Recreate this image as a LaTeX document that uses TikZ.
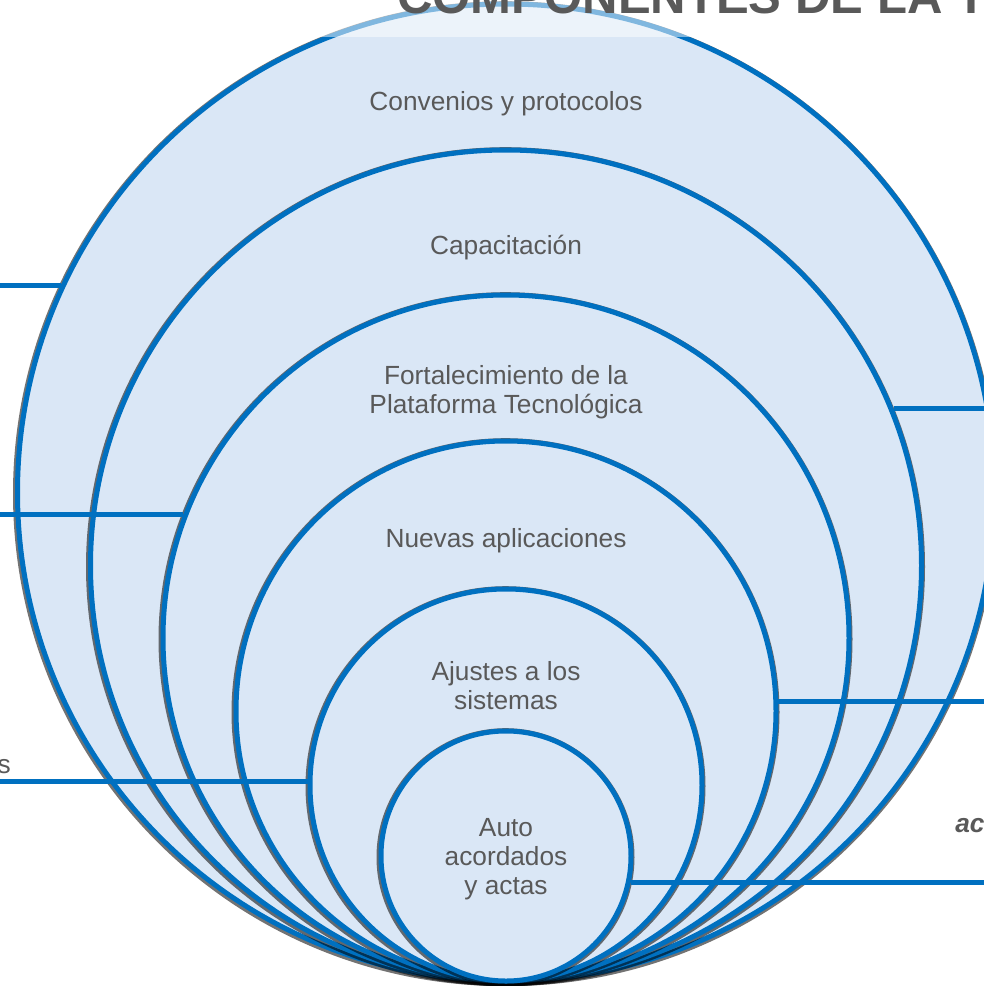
\documentclass[tikz,border=0pt]{standalone}
\usepackage{fontspec}
\setmainfont{Liberation Sans}
\definecolor{ringblue}{HTML}{0070C0}
\definecolor{ringfill}{HTML}{DAE7F6}
\definecolor{txtgray}{HTML}{595959}
\tikzset{
  ring/.style={circle, draw=ringblue, fill=ringfill, line width=3.75pt, inner sep=0pt, minimum size=#1},
  link/.style={draw=ringblue, line width=3.75pt},
  lbl/.style={text=txtgray, font=\fontsize{19.7}{21.4}\selectfont, align=center, anchor=base},
  ttl/.style={text=txtgray, font=\fontsize{36.8}{40}\selectfont\bfseries, anchor=base west, inner sep=0pt}
}
\begin{document}
\begin{tikzpicture}[x=0.75pt,y=-0.75pt, line join=round]
\useasboundingbox (0,0) rectangle (984,986);
\coordinate (lft) at (0,0);
\coordinate (rgt) at (984,0);
% rings, outermost first
\foreach \n/\cy/\r in {1/492.5/488.5, 2/565.5/415.5, 3/638/343, 4/711/270, 5/785/196, 6/856/125}{
  \fill[black, opacity=.55] (505.5,\cy+1.2) circle ({\r+4});
  \node[ring=1.5pt*\r] (c\n) at (506,\cy) {};
}
% labels (base = last line)
\node[lbl] (t1) at (506,110) {Convenios y protocolos};
\node[lbl] (t2) at (506,254) {Capacitación};
\node[lbl] (t3) at (506,413) {Fortalecimiento de la\\Plataforma Tecnológica};
\node[lbl] (t4) at (506,547) {Nuevas aplicaciones};
\node[lbl] (t5) at (506,709) {Ajustes a los\\sistemas};
\node[lbl] (t6) at (506,894) {Auto\\acordados\\y actas};
% connectors
\draw[link] (c1.155) -- (c1.155 -| lft);
\draw[link] (c2.22) -- (c2.22 -| rgt);
\draw[link] (c3.159) -- (c3.159 -| lft);
\draw[link] (c4.2) -- (c4.2 -| rgt);
\draw[link] (c5.179) -- (c5.179 -| lft);
\draw[link] (c6.-12) -- (c6.-12 -| rgt);
% cut texts at the edges
\node[lbl, anchor=base east, inner sep=0pt] (sl) at (11,773) {s};
\node[lbl, anchor=base west, inner sep=0pt, font=\fontsize{19.7}{21.4}\selectfont\bfseries\itshape] (sr) at (955,832) {ac};
% title band
\fill[white, opacity=.5] (300,0) rectangle (984,37);
\node[ttl] (title) at (397,13) {COMPONENTES DE LA T};
\end{tikzpicture}
\end{document}
